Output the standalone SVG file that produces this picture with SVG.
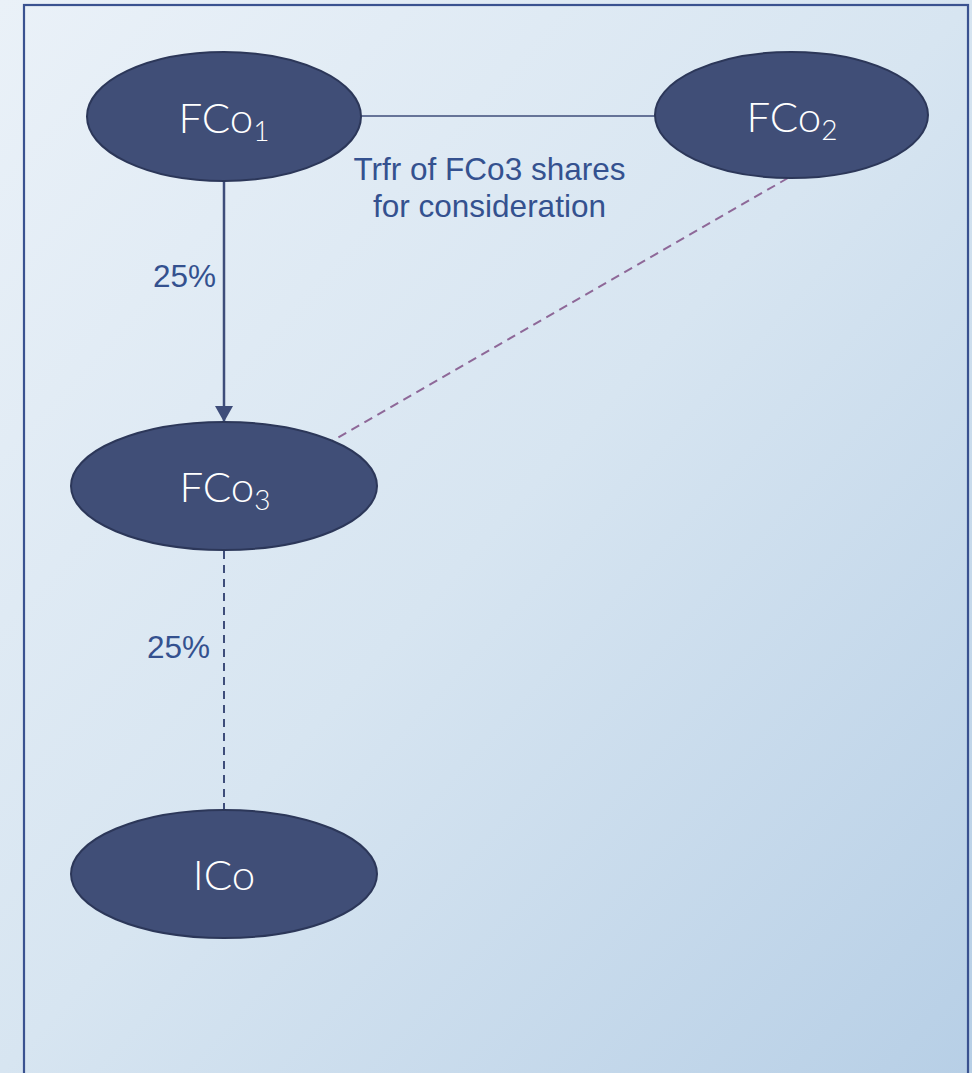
<svg xmlns="http://www.w3.org/2000/svg" width="972" height="1073" viewBox="0 0 972 1073">
  <defs>
    <linearGradient id="bg" x1="0" y1="0" x2="1" y2="1">
      <stop offset="0" stop-color="#EAF1F8"/>
      <stop offset="0.5" stop-color="#D7E5F1"/>
      <stop offset="1" stop-color="#B7CFE6"/>
    </linearGradient>
    <marker id="arrow" viewBox="0 0 16 18" refX="16" refY="9" markerWidth="16" markerHeight="18" markerUnits="userSpaceOnUse" orient="auto">
      <path d="M0,0 L16,9 L0,18 Z" fill="#3E4D7A"/>
    </marker>
    <style>
      .node { fill: #404E77; stroke: #2C3759; stroke-width: 2; }
      .ntext { font-family: Lato, "Open Sans", "DejaVu Sans", sans-serif; font-weight: 300; font-size: 42px; fill: #FFFFFF; text-anchor: middle; }
      .sub { font-size: 28px; }
      .label { font-family: "Liberation Sans", Arial, sans-serif; font-size: 31.5px; fill: #34518F; }
      .solid { stroke: #3E4D7A; fill: none; }
      .dash-blue { stroke: #3E4D7A; stroke-width: 2; stroke-dasharray: 8 6; fill: none; }
      .dash-purple { stroke: #8E6898; stroke-width: 2; stroke-dasharray: 9 6; fill: none; }
    </style>
  </defs>

  <rect x="0" y="0" width="972" height="1073" fill="url(#bg)"/>
  <rect x="24" y="5" width="944" height="1100" fill="none" stroke="#3A5290" stroke-width="2.2"/>

  <g id="connectors">
    <line class="solid" x1="361" y1="116" x2="655" y2="116" stroke-width="1.6"/>
    <line class="solid" x1="224" y1="181" x2="224" y2="422" stroke-width="2.5" marker-end="url(#arrow)"/>
    <line class="dash-purple" x1="788" y1="178" x2="332" y2="441"/>
    <line class="dash-blue" x1="224" y1="551" x2="224" y2="810"/>
    <text class="label" x="489.5" y="180" text-anchor="middle">Trfr of FCo3 shares</text>
    <text class="label" x="489.5" y="217" text-anchor="middle">for consideration</text>
    <text class="label" x="216" y="287" text-anchor="end">25%</text>
    <text class="label" x="210" y="658" text-anchor="end">25%</text>
  </g>

  <g id="node-fco1">
    <ellipse class="node" cx="224" cy="116.5" rx="137" ry="64.5"/>
    <text class="ntext" x="224" y="133">FCo<tspan class="sub" dy="8">1</tspan></text>
  </g>

  <g id="node-fco2">
    <ellipse class="node" cx="791.5" cy="115" rx="136.5" ry="63"/>
    <text class="ntext" x="792" y="132">FCo<tspan class="sub" dy="8">2</tspan></text>
  </g>

  <g id="node-fco3">
    <ellipse class="node" cx="224" cy="486" rx="153" ry="64"/>
    <text class="ntext" x="225" y="502">FCo<tspan class="sub" dy="8">3</tspan></text>
  </g>

  <g id="node-ico">
    <ellipse class="node" cx="224" cy="874" rx="153" ry="64"/>
    <text class="ntext" x="224" y="890">ICo</text>
  </g>
</svg>
